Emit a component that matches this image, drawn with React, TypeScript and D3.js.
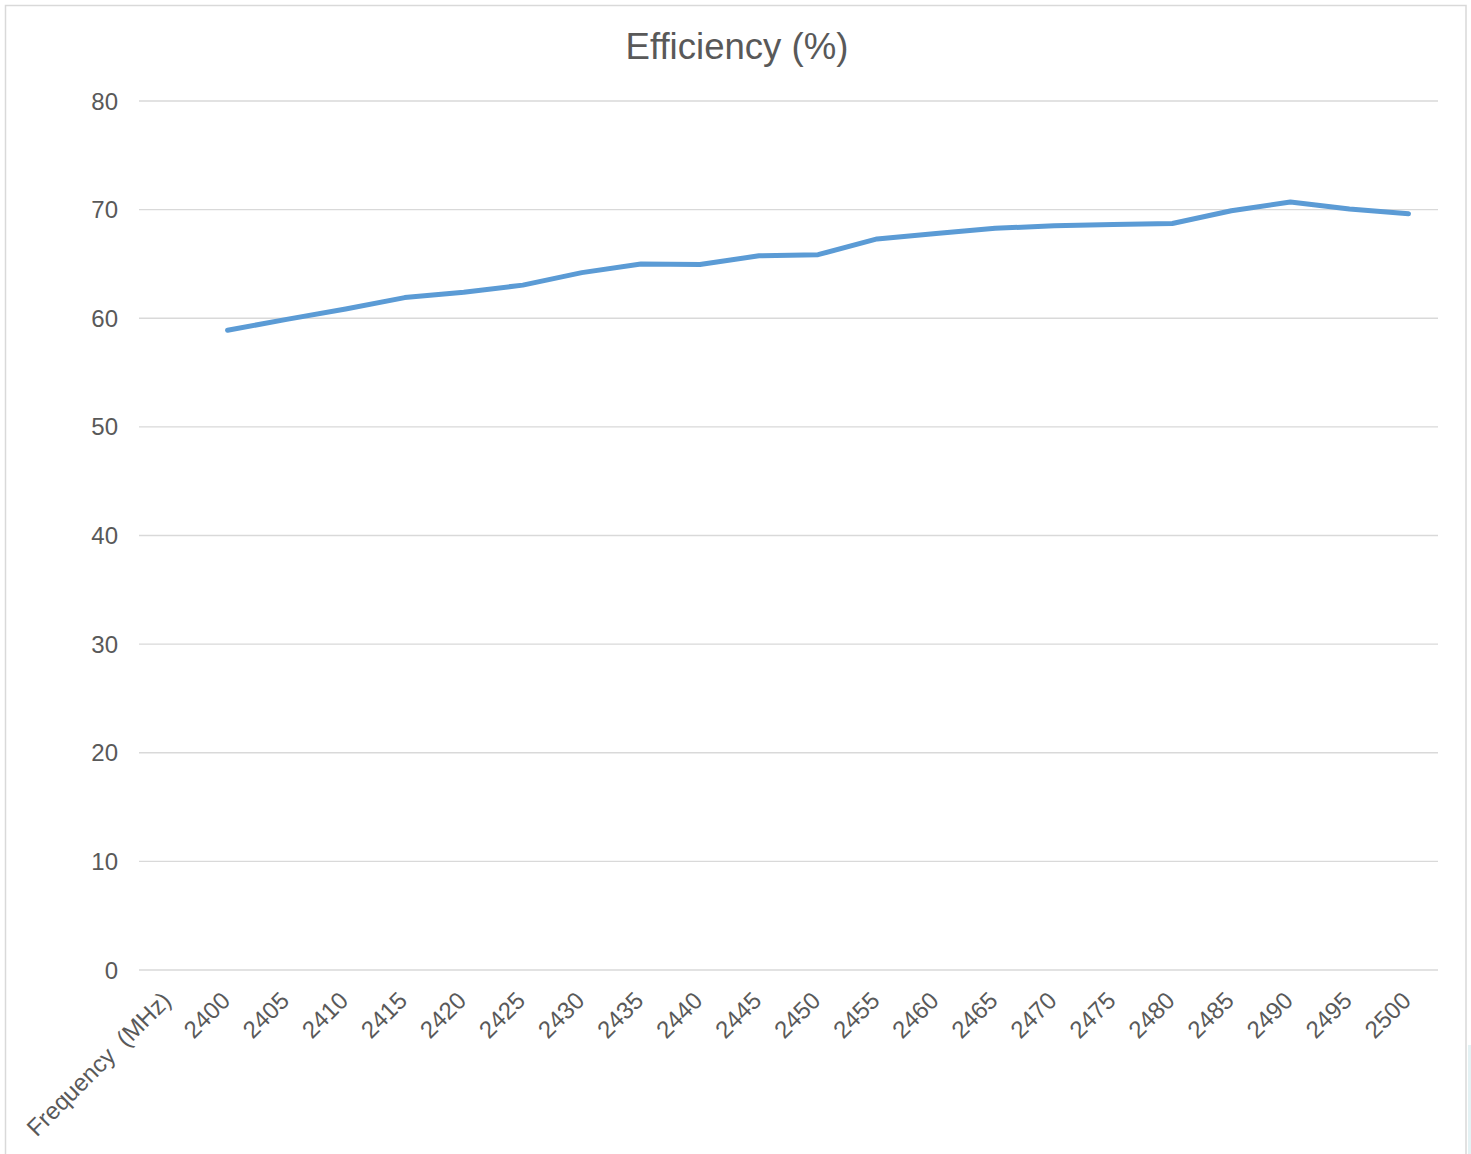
import React from "react";
import * as d3 from "d3";

const categories = ["Frequency  (MHz)", "2400", "2405", "2410", "2415", "2420", "2425", "2430", "2435", "2440", "2445", "2450", "2455", "2460", "2465", "2470", "2475", "2480", "2485", "2490", "2495", "2500"];
const efficiency: (number | null)[] = [null, 58.9, 59.9, 60.85, 61.9, 62.4, 63.05, 64.2, 65.0, 64.95, 65.75, 65.85, 67.3, 67.8, 68.28, 68.52, 68.62, 68.72, 69.9, 70.7, 70.05, 69.62];
const yTicks = [0, 10, 20, 30, 40, 50, 60, 70, 80];
const title = "Efficiency (%)";

export default function App() {
  const W = 1471, H = 1154;
  const left = 139, right = 1438, top = 101, bottom = 970;
  const x = d3.scaleBand<string>().domain(categories).range([left, right]).padding(0);
  const y = d3.scaleLinear().domain([0, 80]).range([bottom, top]);
  const cx = (c: string) => (x(c) as number) + x.bandwidth() / 2;
  const pts = categories.map((c, i) => ({ c, v: efficiency[i] }));
  const line = d3.line<{ c: string; v: number | null }>()
    .defined(d => d.v != null)
    .x(d => cx(d.c))
    .y(d => y(d.v as number));
  const font = "'Liberation Sans', Arial, sans-serif";
  return (
    <div style={{ position: "absolute", left: 0, top: 0 }}>
      <svg width={W} height={H} style={{ display: "block" }}>
        <rect x={0} y={0} width={W} height={H} fill="#ffffff" />
        <rect x={5.5} y={5.5} width={1460.5} height={1200} fill="#ffffff" stroke="#d9d9d9" strokeWidth={1.5} />
        <rect x={1468} y={1045} width={3} height={109} fill="#e4f2f4" />
        <text x={737} y={59} textAnchor="middle" fontFamily={font} fontSize={36.6} fill="#595959">{title}</text>
        {yTicks.map(t => (
          <g key={t}>
            <line x1={left} x2={right} y1={y(t)} y2={y(t)} stroke="#d9d9d9" strokeWidth={1.4} />
            <text x={118} y={y(t) + 8.5} textAnchor="end" fontFamily={font} fontSize={24} fill="#595959">{t}</text>
          </g>
        ))}
        {categories.map(c => (
          <text key={c} transform={`translate(${cx(c) + 4},1002) rotate(-45)`} textAnchor="end" fontFamily={font} fontSize={24} fill="#595959" style={{ whiteSpace: "pre" }}>{c}</text>
        ))}
        <path d={line(pts) || ""} fill="none" stroke="#5b9bd5" strokeWidth={5} strokeLinecap="round" strokeLinejoin="round" />
      </svg>
    </div>
  );
}
